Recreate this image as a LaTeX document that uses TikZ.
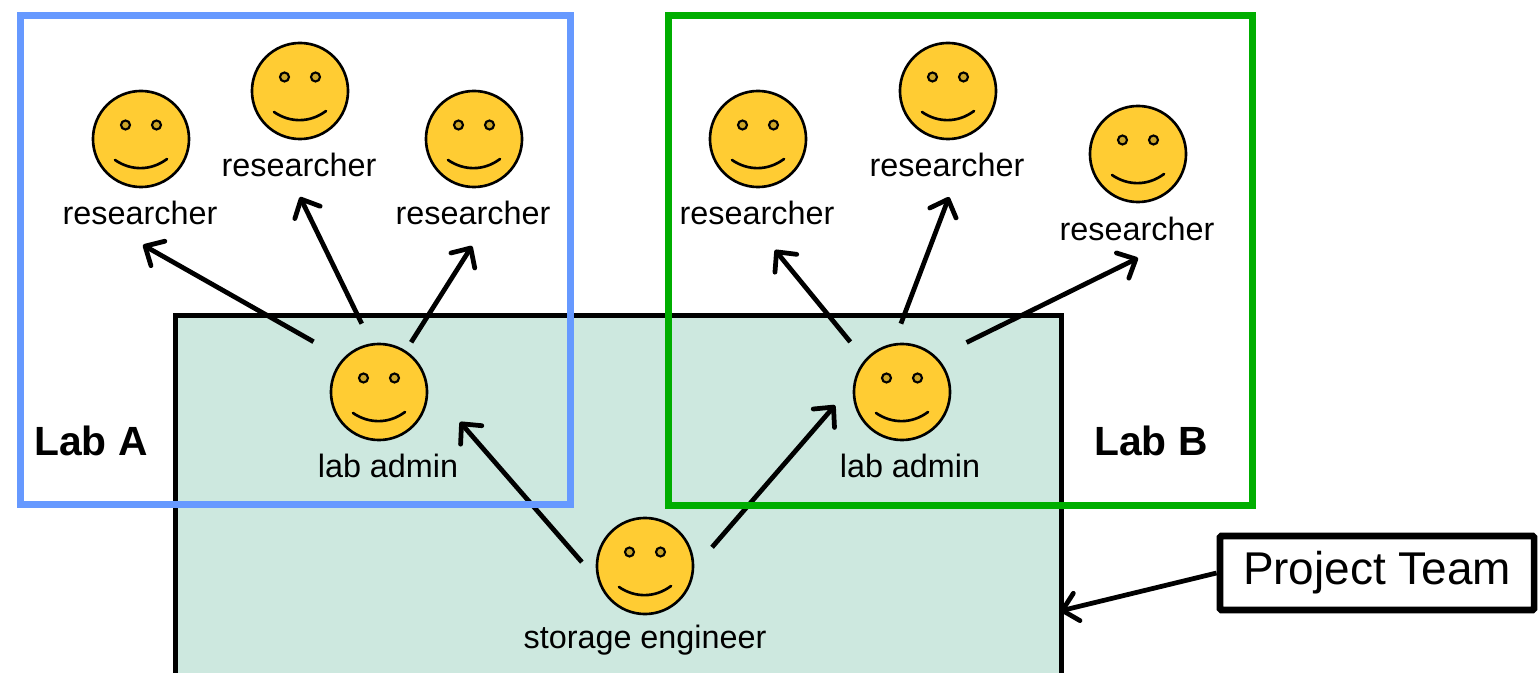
\documentclass[tikz,border=0pt]{standalone}
\usepackage{fontspec}
\setmainfont{Liberation Sans}
\usetikzlibrary{arrows.meta}
\definecolor{facefill}{HTML}{FFCC33}
\definecolor{eyefill}{HTML}{CCA529}
\definecolor{teamfill}{HTML}{CDE8DF}
\definecolor{labablue}{HTML}{6699FF}
\definecolor{labbgreen}{HTML}{00AE00}
\tikzset{
  facenode/.style={circle,draw=black,line width=0.75pt,fill=facefill,minimum size=0.96cm,inner sep=0pt},
  eyenode/.style={circle,draw=black,line width=0.6pt,fill=eyefill,minimum size=0.09cm,inner sep=0pt},
  smileline/.style={line width=0.75pt,line cap=round},
  rolelabel/.style={font=\fontsize{9.2}{11}\selectfont,text=black,inner sep=0pt},
  lablabel/.style={font=\fontsize{11.6}{14}\selectfont\bfseries,inner sep=0pt},
  connector/.style={line width=1.35pt,-{Straight Barb[length=4.2pt,width=8pt,line width=1.35pt,round]}},
  labframe/.style={line width=2pt,miter limit=10},
}
\newcommand{\smiley}[3]{
\node[facenode] (#1) at (#2,#3) {};
\node[eyenode] (#1eyeL) at ($(#2,#3)+(-15.5,-14)$) {};
\node[eyenode] (#1eyeR) at ($(#2,#3)+(15.5,-14)$) {};
\draw[smileline] ($(#2,#3)+(-26,21)$) .. controls ($(#2,#3)+(-10,32)$) and ($(#2,#3)+(10,32)$) .. ($(#2,#3)+(26,20)$);
}
\usetikzlibrary{calc}

\begin{document}
\begin{tikzpicture}[x=0.01cm,y=-0.01cm]
\useasboundingbox (0,0) rectangle (1539,673);
\node[draw=black,line width=1.45pt,fill=teamfill,inner sep=0pt,minimum width=8.85cm,minimum height=3.6cm,anchor=north west] (team) at (173,313) {};

\smiley{resAone}{141}{139}
\smiley{resAtwo}{300}{91}
\smiley{resAthree}{474}{139}
\smiley{resBone}{758}{139}
\smiley{resBtwo}{948}{91}
\smiley{resBthree}{1138}{154}
\smiley{adminA}{379}{392}
\smiley{adminB}{902}{392}
\smiley{storage}{645}{566}

\node[rolelabel] (lblAone) at (140,213) {researcher};
\node[rolelabel] (lblAtwo) at (299,165) {researcher};
\node[rolelabel] (lblAthree) at (473,213) {researcher};
\node[rolelabel] (lblBone) at (757,213) {researcher};
\node[rolelabel] (lblBtwo) at (947,165) {researcher};
\node[rolelabel] (lblBthree) at (1137,229) {researcher};
\node[rolelabel] (lblAdminA) at (388,466) {lab admin};
\node[rolelabel] (lblAdminB) at (910,466) {lab admin};
\node[rolelabel] (lblStorage) at (645,640) {storage engineer};

\coordinate (tipAone) at (143,245);
\coordinate (tipAtwo) at (300,197);
\coordinate (tipAthree) at (472,246);
\coordinate (tipBone) at (775,250);
\coordinate (tipBtwo) at (949,197);
\coordinate (tipBthree) at (1138,258);
\coordinate (teamEdge) at (1060,611);

\draw[connector,shorten <=9.6pt] (adminA.137.9) -- (tipAone);
\draw[connector,shorten <=6.2pt] (adminA.99) -- (tipAtwo);
\draw[connector,shorten <=2.8pt] (adminA.57.8) -- (tipAthree);
\draw[connector,shorten <=6.5pt] (adminB.139.4) -- (tipBone);
\draw[connector,shorten <=6pt] (adminB.100) -- (tipBtwo);
\draw[connector,shorten <=9.4pt] (adminB.45.8) -- (tipBthree);
\draw[connector,shorten <=6.9pt,shorten >=13.9pt] (storage.197.3) -- (adminA.8);
\draw[connector,shorten <=7.7pt,shorten >=7.9pt] (storage.358.4) -- (adminB.171.9);

\node[labframe,draw=labablue,inner sep=0pt,minimum width=5.5cm,minimum height=4.89cm,anchor=north west] (labA) at (17,12) {};
\node[labframe,draw=labbgreen,inner sep=0pt,minimum width=5.84cm,minimum height=4.9cm,anchor=north west] (labB) at (665,12) {};
\node[lablabel] (nameA) at (91,441) {Lab A};
\node[lablabel] (nameB) at (1151,441) {Lab B};

\node[draw=black,line width=1.9pt,rounded corners=0.4pt,fill=white,inner sep=0pt,minimum width=3.14cm,minimum height=0.74cm,font=\fontsize{13.06}{16}\selectfont] (project) at (1377,573) {Project Team};
\draw[connector] (project.west) -- (teamEdge);
\end{tikzpicture}
\end{document}
